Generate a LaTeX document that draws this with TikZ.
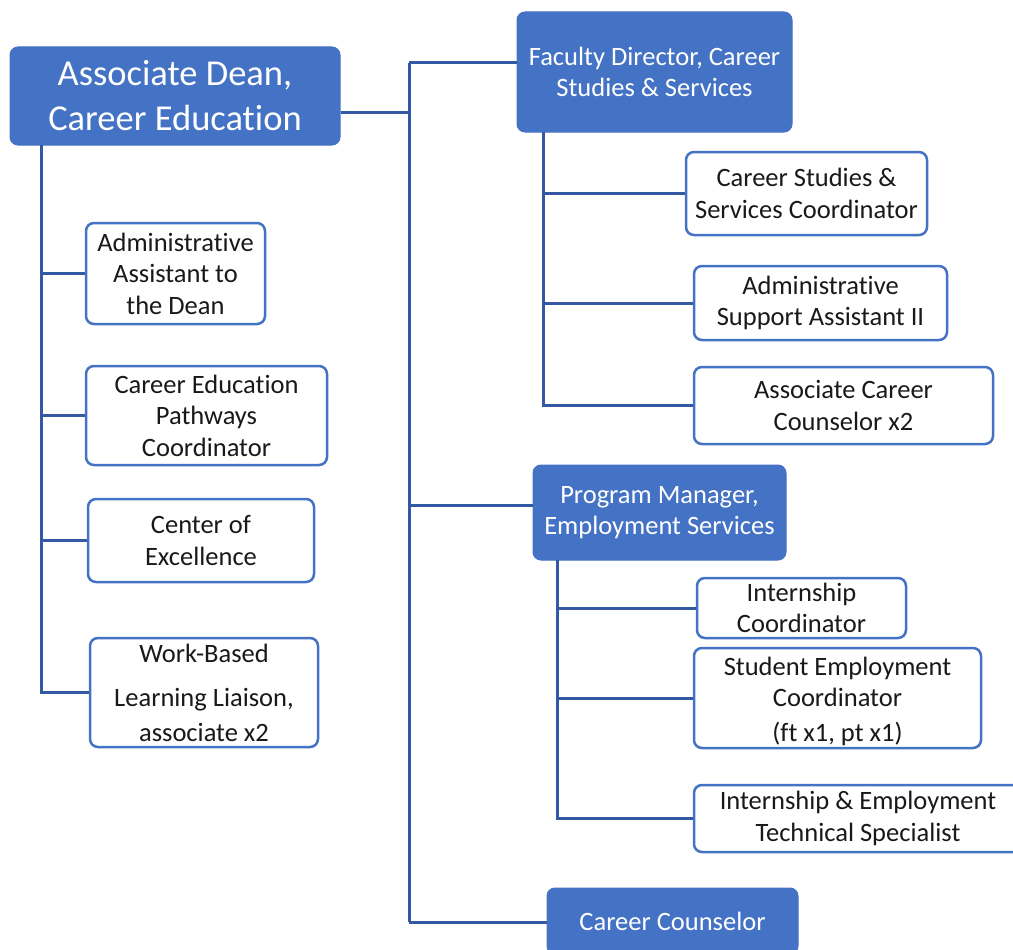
\documentclass[tikz,border=0pt]{standalone}
\usepackage{fontspec}
\setmainfont{Carlito}[Ligatures=NoCommon]
\definecolor{boxblue}{RGB}{68,114,196}
\definecolor{linkblue}{RGB}{52,88,164}
\definecolor{ink}{RGB}{25,25,25}
\tikzset{
  conn/.style={draw=linkblue, line width=3pt},
  unit/.style={draw=boxblue, line width=2.5pt, rounded corners=8pt, fill=white,
    text=ink, align=center, inner sep=0pt, font=\fontsize{26.5}{31.5}\selectfont},
  lead/.style={draw=boxblue, line width=1pt, rounded corners=8pt, fill=boxblue,
    text=white, align=center, inner sep=0pt, font=\fontsize{26.5}{31.5}\selectfont},
}
\begin{document}
\begin{tikzpicture}[x=1pt, y=-1pt]
\useasboundingbox (0,0) rectangle (1013,950);
\clip (0,0) rectangle (1013,950);
\fill[white] (0,0) rectangle (1013,950);

% leaders
\node[lead, minimum width=330pt, minimum height=98pt, font=\fontsize{36.5}{45}\selectfont] (dean) at (175,96) {Associate Dean,\\Career Education};
\node[lead, minimum width=275pt, minimum height=120pt] (fac) at (654.5,72) {Faculty Director, Career\\Studies \& Services};
\node[lead, minimum width=253pt, minimum height=95pt] (pm) at (659.5,512.5) {Program Manager,\\Employment Services};
\node[lead, minimum width=251pt, minimum height=66pt] (cc) at (672.5,921) {Career Counselor};

% staff reporting to the dean
\node[unit, minimum width=179pt, minimum height=101pt] (aad) at (175.5,273.5) {Administrative\\Assistant to\\the Dean};
\node[unit, minimum width=241pt, minimum height=99pt] (cep) at (206.5,415.5) {Career Education\\Pathways\\Coordinator};
\node[unit, minimum width=226pt, minimum height=83pt] (coe) at (201,540.5) {Center of\\Excellence};
\node[unit, minimum width=228pt, minimum height=109pt] (wbl) at (204,692.5) {Work-Based\\[13pt]Learning Liaison,\\[3pt]associate x2};

% career studies & services
\node[unit, minimum width=241pt, minimum height=83pt] (csc) at (806.5,193.5) {Career Studies \&\\Services Coordinator};
\node[unit, minimum width=253pt, minimum height=74pt] (asa) at (820.5,303) {Administrative\\Support Assistant II};
\node[unit, minimum width=299pt, minimum height=77pt] (acc) at (843.5,405.5) {Associate Career\\Counselor x2};

% employment services
\node[unit, minimum width=209pt, minimum height=60pt] (ic) at (801.5,608) {Internship\\Coordinator};
\node[unit, minimum width=287pt, minimum height=100pt] (sec) at (837.5,698) {};
\node[align=center, text=ink, inner sep=0pt, font=\fontsize{26.5}{31.5}\selectfont] (secText) at ([yshift=-3pt]sec.center) {Student Employment\\Coordinator\\[3pt](ft x1, pt x1)};
\node[unit, minimum width=328pt, minimum height=67pt] (iets) at (858,818.5) {Internship \& Employment\\Technical Specialist};

% main trunk
\coordinate (tT) at (409,63);
\coordinate (tB) at (409,922);
\coordinate (deanOut) at ([yshift=-17pt]dean.east);
\coordinate (pmIn) at ([yshift=7pt]pm.west);
\draw[conn] (tT) -- (tB);
\draw[conn] (deanOut) -- (tT |- deanOut);
\draw[conn] (tT) -- (fac.west |- tT);
\draw[conn] (tT |- pmIn) -- (pmIn);
\draw[conn] (tB) -- (cc.west |- tB);

% dean's staff
\coordinate (lT) at (41,145);
\coordinate (lB) at (41,692.5);
\draw[conn] (lT) -- (lB) -- (wbl.west);
\draw[conn] (lT |- aad.west) -- (aad.west);
\draw[conn] (lT |- cep.west) -- (cep.west);
\draw[conn] (lT |- coe.west) -- (coe.west);

% faculty director's staff
\coordinate (fT) at (543,132);
\coordinate (fB) at (543,405.5);
\draw[conn] (fT) -- (fB) -- (acc.west);
\draw[conn] (fT |- csc.west) -- (csc.west);
\draw[conn] (fT |- asa.west) -- (asa.west);

% program manager's staff
\coordinate (pT) at (557,560);
\coordinate (pB) at (557,818.5);
\draw[conn] (pT) -- (pB) -- (iets.west);
\draw[conn] (pT |- ic.west) -- (ic.west);
\draw[conn] (pT |- sec.west) -- (sec.west);
\end{tikzpicture}
\end{document}
